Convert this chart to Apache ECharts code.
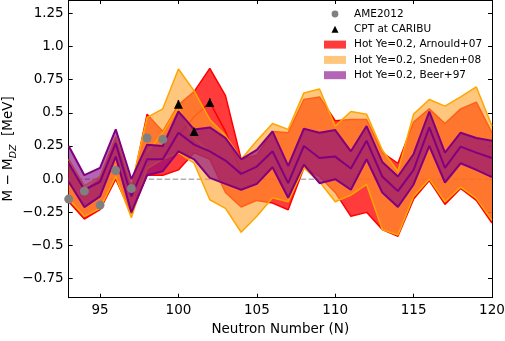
<!DOCTYPE html>
<html>
<head>
<meta charset="utf-8">
<script src="https://cdn.jsdelivr.net/npm/echarts@6.0.0/dist/echarts.min.js"></script>
<style>
  html, body { margin: 0; padding: 0; background: #fff; }
  #main { width: 505px; height: 341px; }
</style>
</head>
<body>
<div id="main"></div>
<script>
    // neutron numbers
    var N = [93, 94, 95, 96, 97, 98, 99, 100, 101, 102, 103, 104, 105, 106, 107, 108, 109, 110, 111, 112, 113, 114, 115, 116, 117, 118, 119, 120];

    // Hot Ye=0.2, Arnould+07 (red band)
    var redUp  = [0.12, -0.08, 0.0, 0.30, -0.08, 0.49, 0.36, 0.56, 0.66, 0.835, 0.63, 0.15, 0.18, 0.36, 0.35, 0.60, 0.62, 0.44, 0.45, 0.45, 0.20, 0.12, 0.43, 0.53, 0.42, 0.53, 0.58, 0.35];
    var redLow = [-0.17, -0.30, -0.23, 0.0, -0.26, 0.03, 0.03, 0.07, 0.20, 0.15, -0.10, -0.21, -0.16, -0.18, -0.23, 0.085, 0.02, -0.10, -0.28, -0.25, -0.38, -0.43, -0.15, -0.01, -0.19, -0.07, -0.16, -0.33];
    var redMid = [null, null, null, null, null, null, null, 0.33, 0.47, 0.58, 0.36, 0.05, null, null, null, null, null, null, null, null, null, null, null, null, null, null, null, null];

    // Hot Ye=0.2, Sneden+08 (orange band)
    var orangeUp  = [0.15, -0.05, 0.02, 0.32, -0.05, 0.465, 0.53, 0.83, 0.665, 0.45, 0.33, 0.15, 0.29, 0.42, 0.375, 0.65, 0.68, 0.40, 0.51, 0.49, 0.22, 0.06, 0.49, 0.60, 0.55, 0.62, 0.695, 0.40];
    var orangeLow = [-0.15, -0.28, -0.22, 0.02, -0.29, 0.08, 0.15, 0.20, 0.12, -0.155, -0.22, -0.40, -0.28, -0.14, -0.17, 0.085, -0.02, -0.17, -0.12, -0.04, -0.38, -0.42, -0.13, 0.0, -0.17, -0.06, -0.145, -0.31];
    var orangeMid = [null, null, null, null, null, 0.20, 0.35, 0.54, 0.31, 0.20, null, null, null, null, null, null, null, null, null, null, null, null, null, null, null, null, null, null];

    // Hot Ye=0.2, Beer+97 (purple band)
    var purpleUp  = [0.25, 0.03, 0.085, 0.375, 0.0, 0.26, 0.25, 0.51, 0.375, 0.39, 0.31, 0.15, 0.22, 0.36, 0.10, 0.38, 0.35, 0.37, 0.21, 0.40, 0.13, 0.02, 0.19, 0.51, 0.20, 0.35, 0.31, 0.29];
    var purpleMid = [0.12, -0.08, -0.02, 0.27, -0.13, 0.15, 0.15, 0.35, 0.26, 0.21, 0.14, 0.04, 0.095, 0.21, -0.03, 0.25, 0.16, 0.17, 0.08, 0.29, 0.02, -0.09, 0.07, 0.39, 0.085, 0.245, 0.20, 0.16];
    var purpleLow = [-0.02, -0.21, -0.13, 0.17, -0.25, 0.03, 0.06, 0.21, 0.15, 0.01, -0.035, -0.08, -0.035, 0.09, -0.14, 0.11, -0.03, 0.0, -0.08, 0.15, -0.10, -0.21, -0.04, 0.25, -0.025, 0.12, 0.07, 0.015];

    // AME2012
    var ameN = [93, 94, 95, 96, 97, 98, 99];
    var ameV = [-0.15, -0.09, -0.195, 0.065, -0.07, 0.31, 0.30];

    // CPT at CARIBU
    var cptN = [100, 101, 102];
    var cptV = [0.565, 0.36, 0.577];
    var cptErr = [0.03, 0.025, 0.03];

    var xTicks = [95, 100, 105, 110, 115, 120];
    var yTicks = [-0.75, -0.5, -0.25, 0, 0.25, 0.5, 0.75, 1, 1.25];

    var FONT = 'DejaVu Sans';
    var RED_FILL = 'rgba(255,0,0,0.77)';
    var ORANGE_FILL = 'rgba(255,160,40,0.6)';
    var PURPLE_FILL = 'rgba(128,0,128,0.6)';

    function band(name, up, lo, fill, z) {
        return {
            name: name,
            type: 'custom',
            z: z,
            silent: true,
            itemStyle: {color: fill},
            data: [[N[0], up[0]]],
            encode: {x: 0, y: 1},
            renderItem: function (params, api) {
                var top = N.map(function (n, i) { return api.coord([n, up[i]]); });
                var bot = N.map(function (n, i) { return api.coord([n, lo[i]]); }).reverse();
                return {type: 'polygon', shape: {points: top.concat(bot)}, style: {fill: fill}};
            }
        };
    }

    function edge(vals, color, width, z) {
        return {
            type: 'line',
            data: N.map(function (n, i) { return [n, vals[i]]; }),
            symbol: 'none',
            silent: true,
            connectNulls: false,
            lineStyle: {color: color, width: width},
            z: z
        };
    }

    function fmt(v) {
        var s = (Math.round(v * 100) % 100 === 0) ? v.toFixed(1) : String(v);
        return s.replace('-', '\u2212');
    }

    var axisBase = {
        type: 'value',
        axisLine: {onZero: false, lineStyle: {color: '#000', width: 1}},
        splitLine: {show: false}
    };

    var option = {
        animation: false,
        backgroundColor: '#fff',
        grid: {left: 68.7, right: 13, top: 0, bottom: 43.3, outerBoundsMode: 'none', containLabel: false},
        legend: {
            orient: 'vertical',
            left: 324,
            top: 7.5,
            padding: 0,
            itemWidth: 22,
            itemHeight: 8,
            itemGap: 2.3,
            selectedMode: false,
            textStyle: {fontFamily: FONT, fontSize: 10.5, color: '#000', lineHeight: 13, padding: [0, 0, 0, 3]},
            data: [
                {name: 'AME2012', icon: 'path://M0,0 M22,8 M7.6,4 A3.4,3.4 0 1 1 14.4,4 A3.4,3.4 0 1 1 7.6,4 Z', itemStyle: {color: '#808080'}},
                {name: 'CPT at CARIBU', icon: 'path://M0,0 M22,8 M7.5,7.5 L11,0.5 L14.5,7.5 Z', itemStyle: {color: '#000'}},
                {name: 'Hot Ye=0.2, Arnould+07', icon: 'rect'},
                {name: 'Hot Ye=0.2, Sneden+08', icon: 'rect'},
                {name: 'Hot Ye=0.2, Beer+97', icon: 'rect'}
            ]
        },
        xAxis: [
            Object.assign({}, axisBase, {
                min: 93, max: 120, position: 'bottom',
                axisTick: {inside: true, length: 4, customValues: xTicks, lineStyle: {color: '#000'}},
                axisLabel: {customValues: xTicks, margin: 6, fontSize: 13.5, color: '#000', fontFamily: FONT},
                name: 'Neutron Number (N)', nameLocation: 'middle', nameGap: 22,
                nameTextStyle: {fontSize: 13.5, color: '#000', fontFamily: FONT}
            }),
            Object.assign({}, axisBase, {
                min: 93, max: 120, position: 'top',
                axisTick: {inside: true, length: 4, customValues: xTicks, lineStyle: {color: '#000'}},
                axisLabel: {show: false}
            })
        ],
        yAxis: [
            Object.assign({}, axisBase, {
                min: -0.893, max: 1.35, position: 'left',
                axisTick: {inside: true, length: 4, customValues: yTicks, lineStyle: {color: '#000'}},
                axisLabel: {customValues: yTicks, margin: 5, fontSize: 13.5, color: '#000', fontFamily: FONT, formatter: fmt},
                name: '{a|M \u2212 M}{s|DZ}{a|  [MeV]}', nameLocation: 'middle', nameGap: 50,
                nameMoveOverlap: false,
                nameTextStyle: {
                    rich: {
                        a: {fontSize: 13.5, color: '#000', fontFamily: FONT, lineHeight: 20},
                        s: {fontSize: 9.5, color: '#000', fontFamily: FONT, fontStyle: 'italic', verticalAlign: 'bottom', lineHeight: 10}
                    }
                }
            }),
            Object.assign({}, axisBase, {
                min: -0.893, max: 1.35, position: 'right',
                axisTick: {inside: true, length: 4, customValues: yTicks, lineStyle: {color: '#000'}},
                axisLabel: {show: false}
            })
        ],
        series: [
            {
                type: 'line', data: [[93, 0], [120, 0]], symbol: 'none', silent: true, z: 1,
                lineStyle: {color: '#b0b0b0', width: 1.5, type: [5.5, 2.5]}
            },
            band('Hot Ye=0.2, Arnould+07', redUp, redLow, RED_FILL, 2),
            edge(redUp, '#ff0000', 1.5, 3),
            edge(redLow, '#ff0000', 1.5, 3),
            edge(redMid, '#ff0000', 1.5, 3),
            band('Hot Ye=0.2, Sneden+08', orangeUp, orangeLow, ORANGE_FILL, 4),
            edge(orangeUp, '#ffa500', 1.5, 5),
            edge(orangeLow, '#ffa500', 1.5, 5),
            edge(orangeMid, '#ffa500', 1.5, 5),
            band('Hot Ye=0.2, Beer+97', purpleUp, purpleLow, PURPLE_FILL, 6),
            edge(purpleUp, '#800080', 2, 7),
            edge(purpleMid, '#800080', 2, 7),
            edge(purpleLow, '#800080', 2, 7),
            {
                name: 'AME2012', type: 'scatter', z: 10, symbolSize: 9,
                itemStyle: {color: '#808080', opacity: 1},
                data: ameN.map(function (n, i) { return [n, ameV[i]]; })
            },
            {
                type: 'custom', z: 11, silent: true,
                data: cptN.map(function (n, i) { return [n, cptV[i], cptErr[i]]; }),
                encode: {x: 0, y: 1},
                renderItem: function (params, api) {
                    var a = api.coord([api.value(0), api.value(1) - api.value(2)]);
                    var b = api.coord([api.value(0), api.value(1) + api.value(2)]);
                    return {type: 'line', shape: {x1: a[0], y1: a[1], x2: b[0], y2: b[1]}, style: {stroke: '#000', lineWidth: 1.5}};
                }
            },
            {
                name: 'CPT at CARIBU', type: 'scatter', z: 12, symbol: 'triangle', symbolSize: 9,
                itemStyle: {color: '#000', opacity: 1},
                data: cptN.map(function (n, i) { return [n, cptV[i]]; })
            }
        ]
    };

    var chart = echarts.init(document.getElementById('main'), null, {renderer: 'canvas'});
    chart.setOption(option);
</script>
</body>
</html>
